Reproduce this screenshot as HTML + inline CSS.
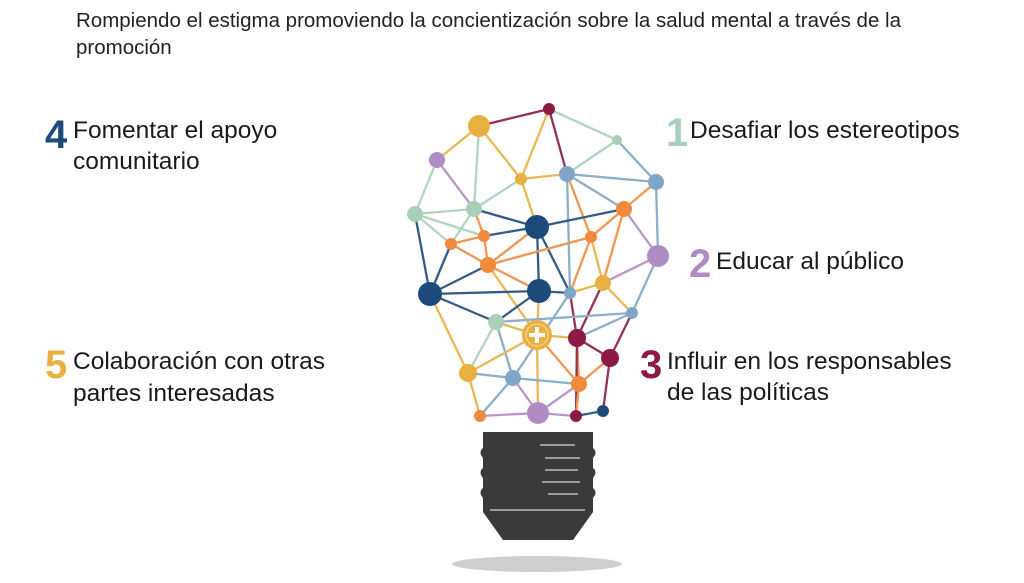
<!DOCTYPE html>
<html><head><meta charset="utf-8"><style>
body{margin:0;background:#fff;width:1024px;height:583px;overflow:hidden}
svg{display:block}
text{font-family:"Liberation Sans",sans-serif}
</style></head><body>
<svg width="1024" height="583" viewBox="0 0 1024 583" xmlns="http://www.w3.org/2000/svg">
<text x="76" y="27" font-size="20.5" fill="#222">Rompiendo el estigma promoviendo la concientización sobre la salud mental a través de la</text>
<text x="76" y="54" font-size="20.5" fill="#222">promoción</text>

<g font-size="24.5" fill="#1a1a1a">
<text x="45" y="148" font-size="40" font-weight="bold" fill="#1d4a7a">4</text>
<text x="73" y="138">Fomentar el apoyo</text>
<text x="73" y="169">comunitario</text>
<text x="45" y="378" font-size="40" font-weight="bold" fill="#e8b040">5</text>
<text x="73" y="369">Colaboración con otras</text>
<text x="73" y="401">partes interesadas</text>
<text x="666" y="146" font-size="40" font-weight="bold" fill="#a8d0b8">1</text>
<text x="690" y="138">Desafiar los estereotipos</text>
<text x="689" y="277" font-size="40" font-weight="bold" fill="#b08cc4">2</text>
<text x="716" y="269">Educar al público</text>
<text x="640" y="378" font-size="40" font-weight="bold" fill="#8c1a44">3</text>
<text x="667" y="369">Influir en los responsables</text>
<text x="667" y="400">de las políticas</text>
</g>

<ellipse cx="537" cy="564" rx="85" ry="8" fill="#bbb" opacity="0.7"/>
<path d="M483 432 L593 432 L593 448 Q598 452 593 458 L593 468 Q598 472 593 478 L593 488 Q598 492 593 498 L593 512 L573 540 L503 540 L483 512 L483 498 Q478 492 483 488 L483 478 Q478 472 483 468 L483 458 Q478 452 483 448 Z" fill="#3a3a3a"/>
<g stroke="#ddd" stroke-width="1.5" opacity="0.8">
<line x1="540" y1="445" x2="575" y2="445"/><line x1="545" y1="458" x2="580" y2="458"/><line x1="545" y1="470" x2="578" y2="470"/><line x1="542" y1="482" x2="580" y2="482"/><line x1="548" y1="494" x2="578" y2="494"/><line x1="490" y1="510" x2="585" y2="510"/>
</g>

<g id="net" stroke-width="2.3" opacity="0.9"></g>
<g id="nodes"></g>
</svg>
<script>
var N=[[479,126,11,'#e8b040'],[549,109,6,'#8c1a44'],[617,140,5,'#a8d0b8'],[437,160,8,'#b08cc4'],[521,179,6,'#e8b040'],[567,174,8,'#7fa6c6'],[656,182,8,'#7fa6c6'],[415,214,8,'#a8d0b8'],[474,209,8,'#a8d0b8'],[537,227,12,'#1d4a7a'],[624,209,8,'#f08a3c'],[484,236,6,'#f08a3c'],[451,244,6,'#f08a3c'],[591,237,6,'#f08a3c'],[488,265,8,'#f08a3c'],[658,256,11,'#b08cc4'],[603,283,8,'#e8b040'],[430,294,12,'#1d4a7a'],[539,291,12,'#1d4a7a'],[570,293,6,'#7fa6c6'],[632,313,6,'#7fa6c6'],[496,322,8,'#a8d0b8'],[537,335,15,'#e8b040'],[577,338,9,'#8c1a44'],[610,358,9,'#8c1a44'],[468,373,9,'#e8b040'],[513,378,8,'#7fa6c6'],[579,384,8,'#f08a3c'],[480,416,6,'#f08a3c'],[538,413,11,'#b08cc4'],[576,416,6,'#8c1a44'],[603,411,6,'#1d4a7a']];
var E=[[0,1],[0,3],[0,8],[0,4],[1,4],[1,5],[1,2],[2,5],[2,6],[3,8],[3,7],[4,5],[4,8],[4,9],[5,6],[5,10],[5,13],[5,19],[6,10],[6,15],[7,8],[7,12],[7,17],[7,11],[8,9],[8,12],[8,11],[9,11],[9,14],[9,10],[9,18],[9,19],[10,13],[10,16],[10,15],[11,12],[11,14],[12,14],[12,17],[13,14],[13,16],[13,19],[14,17],[14,18],[14,22],[15,16],[15,20],[16,19],[16,23],[16,20],[17,18],[17,21],[17,25],[18,21],[18,22],[18,19],[19,23],[20,23],[20,24],[20,21],[21,22],[21,25],[21,26],[22,23],[22,25],[22,29],[22,27],[23,24],[23,27],[23,30],[24,27],[24,31],[25,26],[25,28],[26,29],[26,27],[27,29],[27,30],[28,29],[29,30],[30,31],[26,28],[19,26]];
var ns='http://www.w3.org/2000/svg',g=document.getElementById('net'),h=document.getElementById('nodes');
E.forEach(function(e,i){var a=N[e[0]],b=N[e[1]],l=document.createElementNS(ns,'line');l.setAttribute('x1',a[0]);l.setAttribute('y1',a[1]);l.setAttribute('x2',b[0]);l.setAttribute('y2',b[1]);l.setAttribute('stroke',(i%2?a:b)[3]);g.appendChild(l);});
N.forEach(function(n){var c=document.createElementNS(ns,'circle');c.setAttribute('cx',n[0]);c.setAttribute('cy',n[1]);c.setAttribute('r',n[2]);c.setAttribute('fill',n[3]);h.appendChild(c);});
var p=document.createElementNS(ns,'path');p.setAttribute('d','M537 327 V343 M529 335 H545');p.setAttribute('stroke','#fff');p.setAttribute('stroke-width','4');h.appendChild(p);
var r=document.createElementNS(ns,'circle');r.setAttribute('cx',537);r.setAttribute('cy',335);r.setAttribute('r',11);r.setAttribute('fill','none');r.setAttribute('stroke','#f3cf80');r.setAttribute('stroke-width','1.5');h.appendChild(r);
</script>
</body></html>
